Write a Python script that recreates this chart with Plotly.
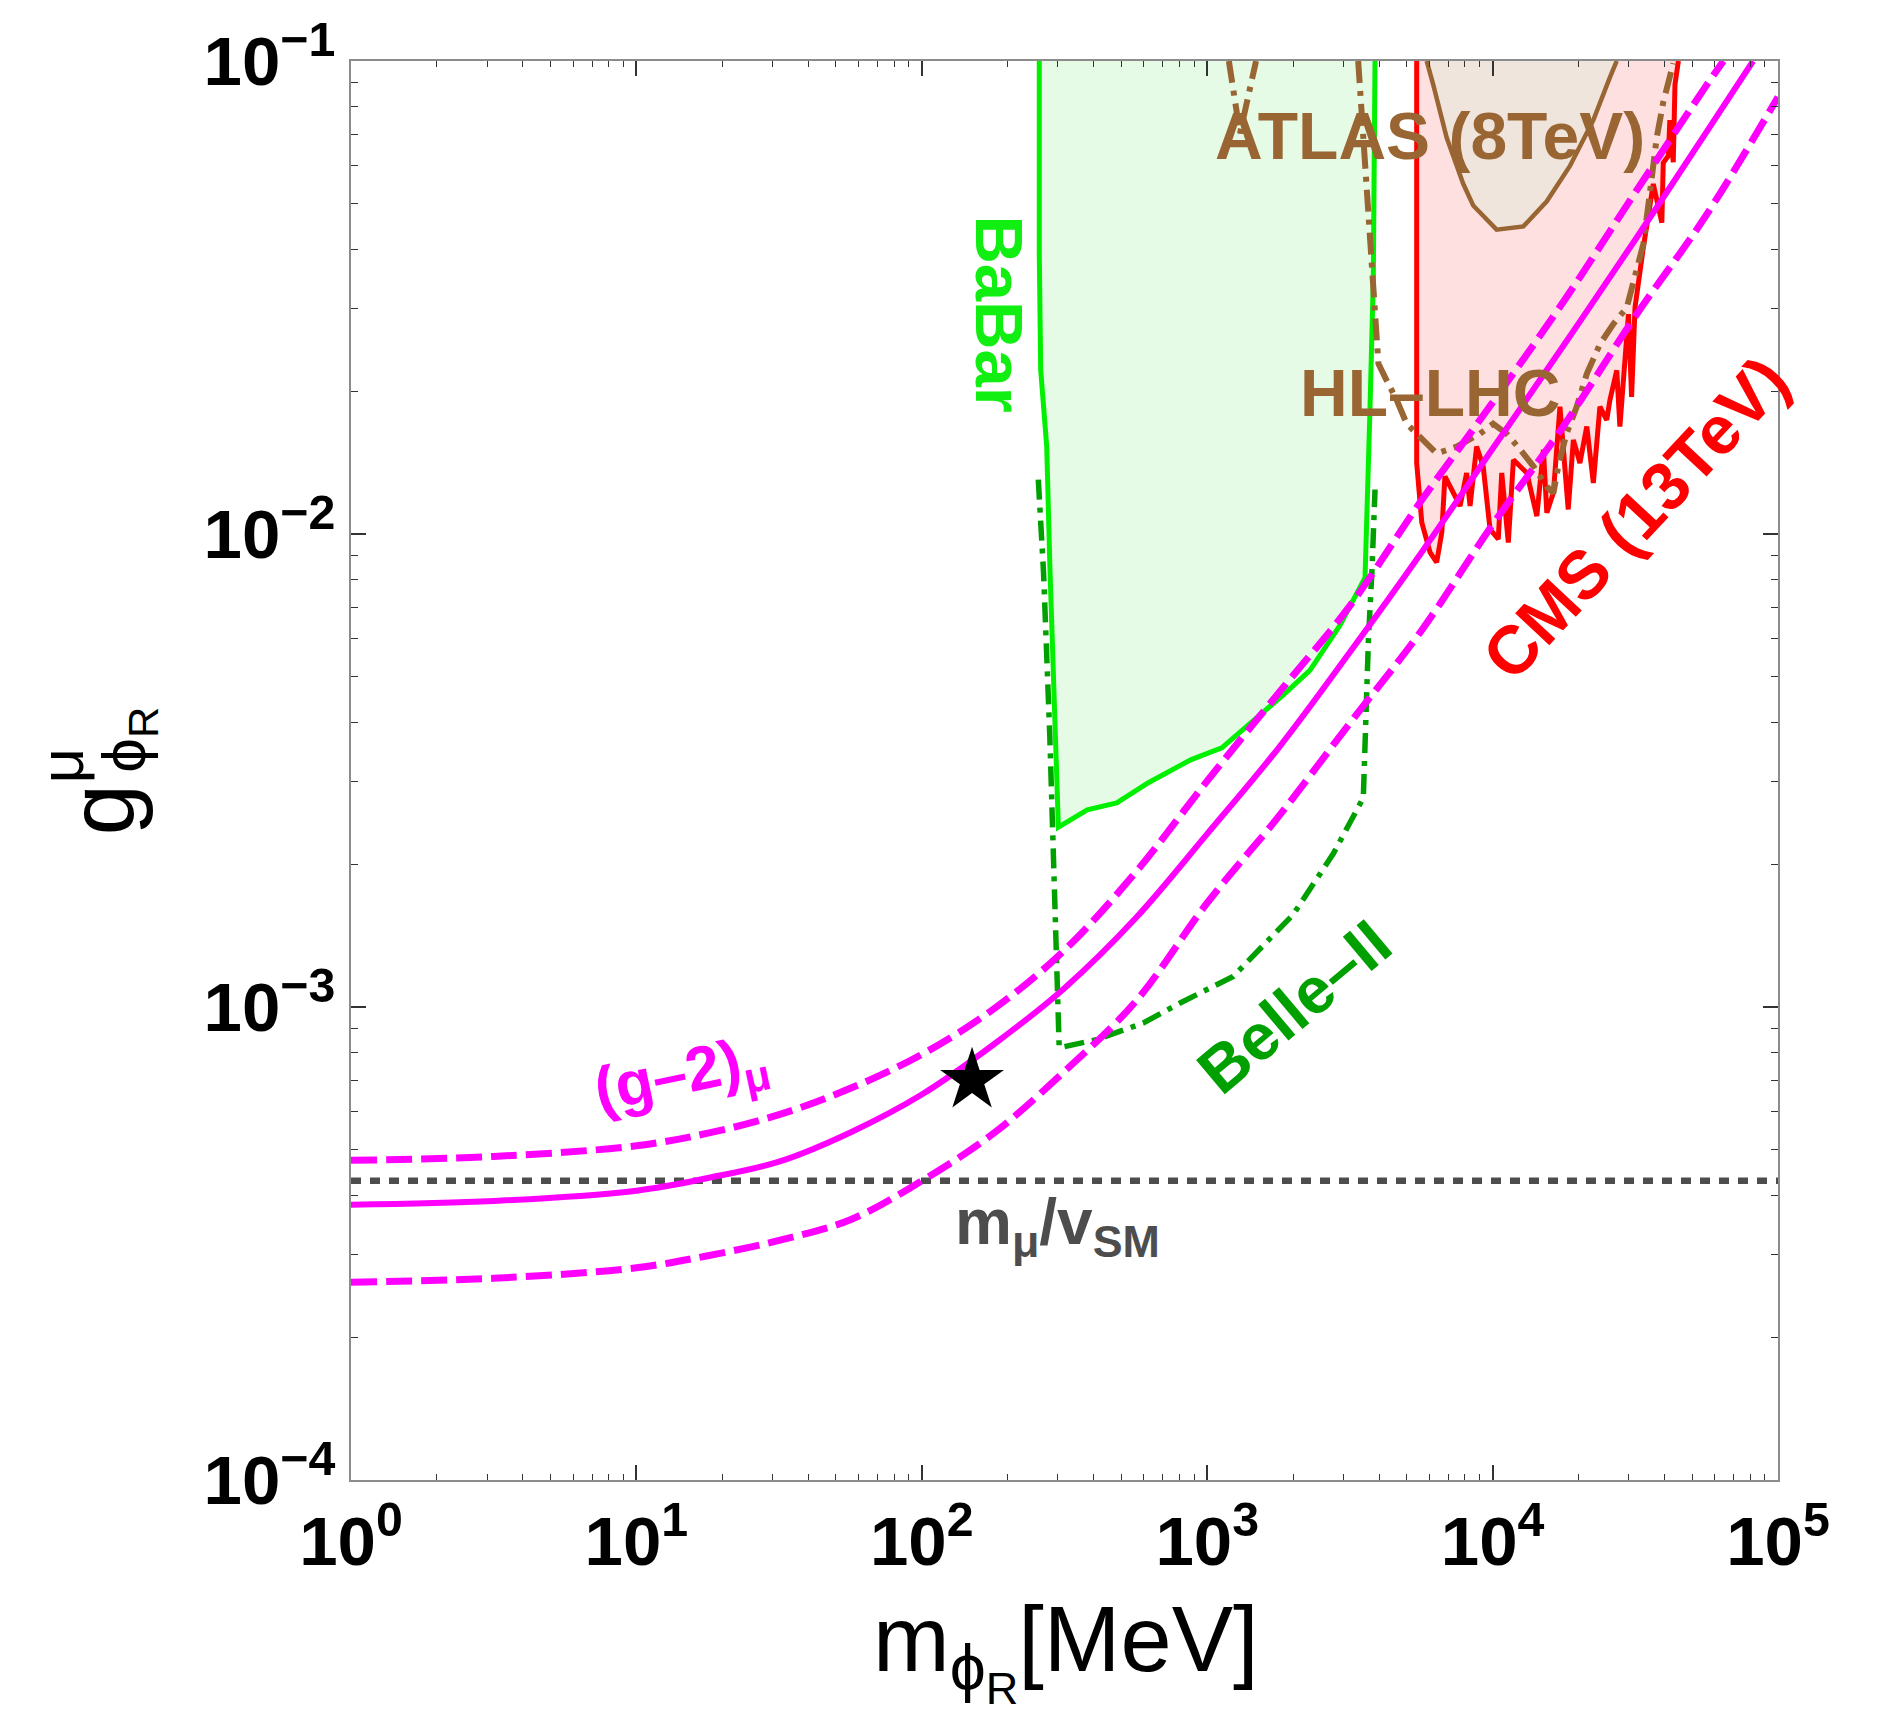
import plotly.graph_objects as go

# ---------------- data ----------------
# (g-2)_mu band : mass in MeV, coupling
g2_mass = [1, 3.16, 10, 17.8, 31.6, 56.2, 100, 178, 316, 562, 1000, 1780,
           3160, 5620, 10000, 17800, 31600, 56200]
g2_central_mass = g2_mass + [81800]
g2_central = [3.82e-4, 3.89e-4, 4.09e-4, 4.35e-4, 4.71e-4, 5.43e-4, 6.53e-4,
              8.32e-4, 1.096e-3, 1.542e-3, 2.323e-3, 3.532e-3, 5.623e-3,
              9.12e-3, 1.514e-2, 2.512e-2, 4.188e-2, 7.079e-2, 0.1]
g2_upper_mass = g2_mass + [64400]
g2_upper = [4.74e-4, 4.83e-4, 5.09e-4, 5.41e-4, 5.92e-4, 6.73e-4, 7.94e-4,
            9.89e-4, 1.318e-3, 1.928e-3, 3.006e-3, 4.613e-3, 7.047e-3,
            1.175e-2, 1.897e-2, 3.112e-2, 5.272e-2, 8.892e-2, 0.1]
g2_lower_mass = g2_mass + [100000]
g2_lower = [2.62e-4, 2.67e-4, 2.81e-4, 2.98e-4, 3.21e-4, 3.55e-4, 4.29e-4,
            5.40e-4, 7.31e-4, 1.028e-3, 1.660e-3, 2.529e-3, 3.981e-3,
            6.237e-3, 1.047e-2, 1.698e-2, 2.884e-2, 4.732e-2, 8.395e-2]

# m_mu / v_SM reference line
mmu_over_v = 4.29e-4
line_mass = [1, 100000]

# benchmark point (star)
star_mass = [150]
star_g = [7.0e-4]

# BaBar exclusion outline
babar_mass = [258, 258, 261, 274, 281, 301, 380, 482, 622, 875, 1125, 1452,
              1849, 2291, 2917, 3573, 3622, 3715, 3819, 3873]
babar_g = [0.1, 0.0390, 0.0222, 0.0153, 0.00857, 0.00240, 0.00261, 0.00270,
           0.00298, 0.00333, 0.00353, 0.00402, 0.00457, 0.00515, 0.00641,
           0.00809, 0.01146, 0.0180, 0.0343, 0.1]

# Belle-II projection
belle_mass = [256, 259, 267, 281, 288, 293, 301, 303, 410, 597, 804, 1233,
              2004, 2767, 3524, 3573, 3673, 3776, 3873]
belle_g = [0.01303, 0.01146, 0.00830, 0.00371, 0.00236, 0.00141, 0.000925,
           0.000820, 0.000853, 0.000925, 0.00102, 0.00116, 0.00157, 0.00211,
           0.00277, 0.00371, 0.00601, 0.00830, 0.01242]

# CMS (13 TeV) exclusion
cms_mass = [5420, 5420, 5649, 6039, 6368, 6637, 6808, 7194, 7691, 8110, 8337,
            8790, 9268, 9795, 10471, 10765, 11350, 11830, 13183, 14289, 15066,
            15488, 16330, 17219, 17947, 18408, 19187, 20230, 21380, 22542,
            23768, 25119, 25763, 27227, 27925, 29107, 29923, 30690, 31550,
            33729, 35645, 36559, 39174, 39628, 41305, 41783, 42954, 43551,
            44771]
cms_g = [0.1, 0.01413, 0.01057, 0.00914, 0.00871, 0.01007, 0.01324, 0.01242,
         0.01146, 0.01346, 0.01146, 0.01531, 0.01390, 0.01023, 0.00975,
         0.01346, 0.00959, 0.01435, 0.01346, 0.01091, 0.01507, 0.01109,
         0.01222, 0.01858, 0.01346, 0.01127, 0.01581, 0.01413, 0.01687,
         0.01282, 0.01858, 0.01742, 0.01919, 0.02218, 0.01687, 0.02404,
         0.02917, 0.01950, 0.03013, 0.04027, 0.05129, 0.05495, 0.04550,
         0.06095, 0.06310, 0.07499, 0.06109, 0.08913, 0.1]

# ATLAS (8 TeV) exclusion
atlas_mass = [5875, 6194, 6902, 7889, 8551, 10328, 12823, 15488, 18664,
              22542, 25763, 27227]
atlas_g = [0.1, 0.0891, 0.0689, 0.0550, 0.0495, 0.0440, 0.0447, 0.0505,
           0.0600, 0.0750, 0.0923, 0.1]

# HL-LHC projection
hl_mass = [3381, 3475, 3573, 3664, 3767, 3873, 3981, 4256, 4613, 5000, 5572,
           6368, 7482, 9036, 10046, 11194, 12474, 13900, 15488, 16330, 16982,
           18155, 19724, 21380, 23768, 26485, 29512, 31989, 33729, 35645,
           37584, 39628, 42954]
hl_g = [0.1, 0.0767, 0.0603, 0.0473, 0.0372, 0.0292, 0.0229, 0.0211, 0.0192,
        0.0171, 0.0161, 0.0148, 0.0153, 0.0163, 0.0171, 0.0163, 0.0151,
        0.0139, 0.0126, 0.0122, 0.0139, 0.0163, 0.0186, 0.0218, 0.0252,
        0.0278, 0.0301, 0.0357, 0.0410, 0.0531, 0.0689, 0.0818, 0.0989]
hl_tip_mass = [1191, 1303, 1483]
hl_tip_g = [0.1, 0.0703, 0.1]

# axis ticks
x_tickvals = [1, 10, 100, 1000, 10000, 100000]
x_ticktext = ["<b>10<sup>0</sup></b>", "<b>10<sup>1</sup></b>",
              "<b>10<sup>2</sup></b>", "<b>10<sup>3</sup></b>",
              "<b>10<sup>4</sup></b>", "<b>10<sup>5</sup></b>"]
y_tickvals = [1e-4, 1e-3, 1e-2, 1e-1]
y_ticktext = ["<b>10<sup>\u22124</sup></b>", "<b>10<sup>\u22123</sup></b>",
              "<b>10<sup>\u22122</sup></b>", "<b>10<sup>\u22121</sup></b>"]

# ---------------- styling ----------------
MAG = "#ff00ff"
BROWN = "#996633"
GREEN = "#00f000"
DKGREEN = "#00a000"
RED = "#ff0000"
FONT = "Liberation Sans, Arial, sans-serif"

W, H = 1896, 1720
L, R, T, B = 351, 118, 52, 240


def px(xpix):
    return (xpix - L) / (W - L - R)


def py(ypix):
    return (H - B - ypix) / (H - T - B)


fig = go.Figure()

# fills
fig.add_trace(go.Scatter(x=babar_mass, y=babar_g, fill="toself",
                         fillcolor="#e5fbe5", line=dict(width=0),
                         mode="lines", hoverinfo="skip"))
fig.add_trace(go.Scatter(x=cms_mass, y=cms_g, fill="toself",
                         fillcolor="#ffe0e0", line=dict(width=0),
                         mode="lines", hoverinfo="skip"))
fig.add_trace(go.Scatter(x=atlas_mass, y=atlas_g, fill="toself",
                         fillcolor="#efe5dc", line=dict(width=0),
                         mode="lines", hoverinfo="skip"))
# outlines
fig.add_trace(go.Scatter(x=babar_mass, y=babar_g, mode="lines",
                         line=dict(color=GREEN, width=5)))
fig.add_trace(go.Scatter(x=cms_mass, y=cms_g, mode="lines",
                         line=dict(color=RED, width=5)))
fig.add_trace(go.Scatter(x=atlas_mass, y=atlas_g, mode="lines",
                         line=dict(color=BROWN, width=4.5)))
fig.add_trace(go.Scatter(x=hl_mass, y=hl_g, mode="lines",
                         line=dict(color=BROWN, width=6,
                                   dash="22px,8px,5px,8px")))
fig.add_trace(go.Scatter(x=hl_tip_mass, y=hl_tip_g, mode="lines",
                         line=dict(color=BROWN, width=6,
                                   dash="22px,8px,5px,8px")))
fig.add_trace(go.Scatter(x=belle_mass, y=belle_g, mode="lines",
                         line=dict(color=DKGREEN, width=5.5,
                                   dash="20px,8px,5px,8px")))
# m_mu / v line
fig.add_trace(go.Scatter(x=line_mass, y=[mmu_over_v, mmu_over_v],
                         mode="lines",
                         line=dict(color="#4d4d4d", width=6.5,
                                   dash="10px,9px")))
# g-2 band
fig.add_trace(go.Scatter(x=g2_upper_mass, y=g2_upper, mode="lines",
                         line=dict(color=MAG, width=7, dash="26px,9px",
                                   shape="spline", smoothing=1.0)))
fig.add_trace(go.Scatter(x=g2_lower_mass, y=g2_lower, mode="lines",
                         line=dict(color=MAG, width=7, dash="26px,9px",
                                   shape="spline", smoothing=1.0)))
fig.add_trace(go.Scatter(x=g2_central_mass, y=g2_central, mode="lines",
                         line=dict(color=MAG, width=6, shape="spline",
                                   smoothing=1.0)))
fig.add_trace(go.Scatter(x=star_mass, y=star_g, mode="markers",
                         marker=dict(symbol="star", size=48, color="black",
                                     line=dict(width=0))))

ann = []


def label(text, xpix, ypix, size, color, angle=0, bold=True):
    t = "<b>" + text + "</b>" if bold else text
    ann.append(dict(text=t, x=px(xpix), y=py(ypix), xref="paper",
                    yref="paper", showarrow=False, textangle=angle,
                    xanchor="center", yanchor="middle",
                    font=dict(family=FONT, size=size, color=color)))


label("BaBar", 1000, 306, 67, "#11ee11", angle=90)
label("ATLAS (8TeV)", 1430, 127, 66, BROWN)
label("HL\u2013LHC", 1430, 386, 66, BROWN)
label("CMS (13TeV)", 1635, 512, 68, RED, angle=-47)
label("Belle\u2013II", 1294, 1003, 65, DKGREEN, angle=-40)
label("(g\u20132)<sub>\u03bc</sub>", 681, 1074, 62, MAG, angle=-12)
label("m<sub>\u03bc</sub>/v<sub>SM</sub>", 1057, 1224, 64, "#4d4d4d")

# axis titles
label("m<sub>\u03d5<sub>R</sub></sub>[MeV]", 1066, 1652, 92, "black",
      bold=False)
label("g", 102, 806, 92, "black", angle=-90, bold=False)
label("\u03bc", 62, 761, 62, "black", angle=-90, bold=False)
label("\u03d5<sub>R</sub>", 128, 735, 62, "black", angle=-90, bold=False)

x_minor = [k * 10 ** e for e in range(0, 5) for k in range(2, 10)]
y_minor = [k * 10.0 ** e for e in range(-4, -1) for k in range(2, 10)]

axis_common = dict(type="log", showline=True, mirror="allticks",
                   linecolor="#8c8c8c", linewidth=1.5, ticks="inside",
                   ticklen=15, tickwidth=1.5, tickcolor="#333333",
                   showgrid=False, zeroline=False,
                   tickfont=dict(family=FONT, size=69, color="black"))

fig.update_layout(
    width=W, height=H,
    margin=dict(l=L, r=R, t=T, b=B),
    paper_bgcolor="white", plot_bgcolor="white",
    showlegend=False,
    font=dict(family=FONT),
    xaxis=dict(range=[0, 5], tickmode="array", tickvals=x_tickvals,
               ticktext=x_ticktext,
               minor=dict(tickmode="array", tickvals=x_minor,
                          ticks="inside", ticklen=6, tickwidth=1.2,
                          tickcolor="#333333"),
               **axis_common),
    yaxis=dict(range=[-4, -1], tickmode="array", tickvals=y_tickvals,
               ticktext=y_ticktext,
               minor=dict(tickmode="array", tickvals=y_minor,
                          ticks="inside", ticklen=7, tickwidth=1.2,
                          tickcolor="#333333"),
               **axis_common),
    annotations=ann,
)

fig.write_html("out.html")
